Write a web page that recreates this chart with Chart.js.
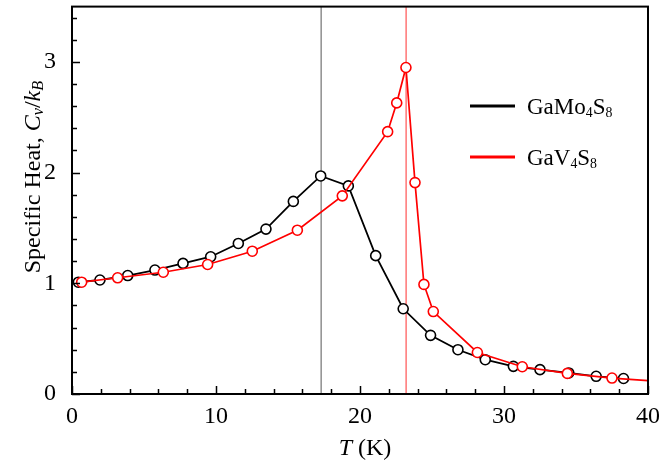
<!DOCTYPE html>
<html>
<head>
<meta charset="utf-8">
<script src="https://cdn.jsdelivr.net/npm/chart.js@4.4.0/dist/chart.umd.min.js"></script>
<style>
  html, body { margin: 0; padding: 0; background: #fff; }
</style>
</head>
<body>
<canvas id="myChart" width="659" height="462"></canvas>
<script>
// GaMo4S8 specific heat
const moT  = [0.44, 1.94, 3.87, 5.76, 7.71, 9.63, 11.55, 13.47, 15.37, 17.27, 19.19, 21.09, 23.0, 24.9, 26.8, 28.7, 30.65, 32.5, 34.5, 36.4, 38.3];
const moCv = [1.01, 1.03, 1.07, 1.12, 1.18, 1.24, 1.36, 1.49, 1.74, 1.97, 1.88, 1.25, 0.77, 0.53, 0.40, 0.31, 0.25, 0.22, 0.19, 0.16, 0.14];

// GaV4S8 specific heat (last point is the end of the line, no marker)
const vT  = [0.67, 3.17, 6.34, 9.42, 12.52, 15.65, 18.77, 21.92, 22.55, 23.19, 23.82, 24.44, 25.09, 28.15, 31.27, 34.4, 37.5, 40];
const vCv = [1.01, 1.05, 1.10, 1.17, 1.29, 1.48, 1.79, 2.37, 2.63, 2.95, 1.91, 0.99, 0.745, 0.375, 0.246, 0.186, 0.144, 0.12];

// transition temperatures (vertical markers)
const moTc = 17.3;
const vTc = 23.2;

const xTicks = [0, 10, 20, 30, 40];
const yTicks = [0, 1, 2, 3];

const serif = "'Liberation Serif', 'Times New Roman', serif";

function toPoints(xs, ys) {
  return xs.map((x, i) => ({ x: x, y: ys[i] }));
}

// draw a run of text pieces: {t, it, sub}
function richWidth(ctx, parts, size, subScale) {
  let w = 0;
  for (const p of parts) {
    const s = p.sub ? size * subScale : size;
    ctx.font = (p.it ? 'italic ' : '') + s + 'px ' + serif;
    w += ctx.measureText(p.t).width;
  }
  return w;
}
function richText(ctx, parts, x, y, size, subScale) {
  for (const p of parts) {
    const s = p.sub ? size * subScale : size;
    ctx.font = (p.it ? 'italic ' : '') + s + 'px ' + serif;
    ctx.fillText(p.t, x, y + (p.sub ? size * 0.12 : 0));
    x += ctx.measureText(p.t).width;
  }
}

const decor = {
  id: 'decor',
  afterDatasetsDraw(chart) {
    const ctx = chart.ctx;
    const a = chart.chartArea;
    const xs = chart.scales.x, ys = chart.scales.y;
    ctx.save();
    ctx.strokeStyle = '#000';
    ctx.lineWidth = 1.5;
    // inward ticks, bottom
    ctx.beginPath();
    for (let v = 0; v <= 40; v += 2) {
      const px = Math.round(xs.getPixelForValue(v)) + 0.5;
      const len = (v % 10 === 0) ? 8 : 5;
      ctx.moveTo(px, a.bottom);
      ctx.lineTo(px, a.bottom - len);
    }
    // inward ticks, left
    for (let i = 0; i <= 17; i++) {
      const v = i * 0.2;
      const py = Math.round(ys.getPixelForValue(v)) + 0.5;
      const len = (i % 5 === 0) ? 8 : 5;
      ctx.moveTo(a.left, py);
      ctx.lineTo(a.left + len, py);
    }
    ctx.stroke();
    // frame
    ctx.lineWidth = 2;
    ctx.strokeRect(a.left, a.top, a.right - a.left, a.bottom - a.top);

    // legend
    const legend = [
      { color: '#000', parts: [{ t: 'GaMo' }, { t: '4', sub: true }, { t: 'S' }, { t: '8', sub: true }] },
      { color: '#ff0000', parts: [{ t: 'GaV' }, { t: '4', sub: true }, { t: 'S' }, { t: '8', sub: true }] }
    ];
    legend.forEach((item, i) => {
      const ly = 106 + i * 51;
      ctx.strokeStyle = item.color;
      ctx.lineWidth = 3;
      ctx.beginPath();
      ctx.moveTo(470, ly);
      ctx.lineTo(515, ly);
      ctx.stroke();
      ctx.fillStyle = '#000';
      ctx.textBaseline = 'alphabetic';
      ctx.textAlign = 'left';
      richText(ctx, item.parts, 527, ly + 8, 23, 0.6);
    });

    // x title
    const xt = [{ t: 'T', it: true }, { t: ' (K)' }];
    const xw = richWidth(ctx, xt, 24, 0.68);
    richText(ctx, xt, 365 - xw / 2, 455, 24, 0.68);

    // y title
    const yt = [{ t: 'Specific Heat, ' }, { t: 'C', it: true }, { t: 'v', it: true, sub: true },
                { t: '/' }, { t: 'k', it: true }, { t: 'B', it: true, sub: true }];
    ctx.translate(40, 177);
    ctx.rotate(-Math.PI / 2);
    const yw = richWidth(ctx, yt, 24, 0.68);
    richText(ctx, yt, -yw / 2, 0, 24, 0.68);
    ctx.restore();
  }
};

const ctx = document.getElementById('myChart').getContext('2d');
const myChart = new Chart(ctx, {
  type: 'scatter',
  data: {
    datasets: [
      {
        label: 'GaV4S8',
        data: toPoints(vT, vCv),
        showLine: true,
        borderColor: '#ff0000',
        backgroundColor: '#fff',
        borderWidth: 1.7,
        pointRadius: vT.map((t, i) => i === vT.length - 1 ? 0 : 5),
        pointBorderWidth: 1.6,
        order: 0
      },
      {
        label: 'GaMo4S8',
        data: toPoints(moT, moCv),
        showLine: true,
        borderColor: '#000',
        backgroundColor: '#fff',
        borderWidth: 1.8,
        pointRadius: 5,
        pointBorderWidth: 1.6,
        order: 1
      },
      {
        label: 'Tc GaMo4S8',
        data: [{ x: moTc, y: 0 }, { x: moTc, y: 3.5 }],
        showLine: true,
        borderColor: '#555',
        borderWidth: 1,
        pointRadius: 0,
        order: 2
      },
      {
        label: 'Tc GaV4S8',
        data: [{ x: vTc, y: 0 }, { x: vTc, y: 3.5 }],
        showLine: true,
        borderColor: '#ff3030',
        borderWidth: 1,
        pointRadius: 0,
        order: 2
      }
    ]
  },
  options: {
    responsive: false,
    animation: false,
    layout: { padding: { left: 0, right: 11, top: 5, bottom: 0 } },
    plugins: {
      legend: { display: false },
      tooltip: { enabled: false }
    },
    scales: {
      x: {
        type: 'linear',
        min: 0,
        max: 40,
        grid: { display: false, drawTicks: false },
        border: { display: false },
        afterBuildTicks: (s) => { s.ticks = xTicks.map(v => ({ value: v })); },
        afterFit: (s) => { s.height = 68; s.paddingLeft = 0; s.paddingRight = 0; },
        ticks: {
          color: '#000',
          padding: 8,
          maxRotation: 0,
          font: { family: serif, size: 24 }
        }
      },
      y: {
        type: 'linear',
        min: 0,
        max: 3.5,
        grid: { display: false, drawTicks: false },
        border: { display: false },
        afterBuildTicks: (s) => { s.ticks = yTicks.map(v => ({ value: v })); },
        afterFit: (s) => { s.width = 72; s.paddingTop = 0; s.paddingBottom = 0; },
        ticks: {
          color: '#000',
          padding: 16,
          font: { family: serif, size: 24 }
        }
      }
    }
  },
  plugins: [decor]
});
</script>
</body>
</html>
